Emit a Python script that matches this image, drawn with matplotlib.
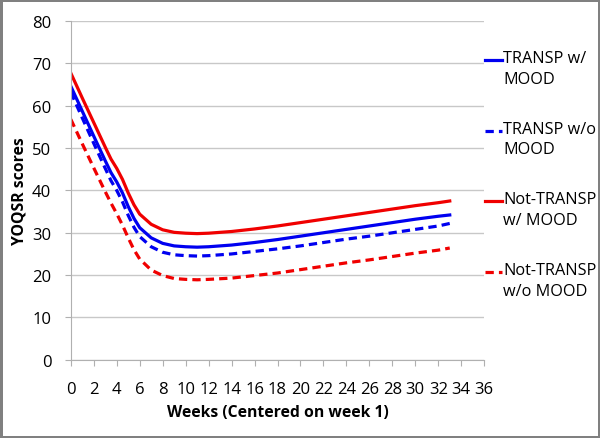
import matplotlib
matplotlib.use('Agg')
import matplotlib.pyplot as plt
from matplotlib.lines import Line2D

# semanas y puntuaciones
weeks = [0, 1, 2, 3, 3.5, 4, 4.5, 5, 5.5, 6, 7, 8, 9, 10, 11, 12,
         14, 16, 18, 20, 22, 24, 26, 28, 30, 32, 33]
transp_mood = [64.6, 58.7, 52.8, 47.0, 44.2, 42.0, 39.4, 36.2, 33.4, 31.2, 28.8, 27.5, 26.9, 26.7, 26.6, 26.7,
               27.1, 27.7, 28.4, 29.2, 30.0, 30.8, 31.6, 32.4, 33.2, 33.9, 34.2]
transp_nomood = [63.2, 57.1, 51.1, 45.2, 42.3, 40.0, 37.3, 34.1, 31.3, 29.1, 26.7, 25.4, 24.8, 24.6, 24.5, 24.6,
                 25.0, 25.6, 26.2, 26.9, 27.7, 28.5, 29.2, 30.0, 30.8, 31.6, 32.2]
nottransp_mood = [67.7, 61.8, 56.0, 50.2, 47.4, 45.2, 42.6, 39.4, 36.6, 34.4, 32.0, 30.7, 30.1, 29.9, 29.8, 29.9,
                  30.3, 30.9, 31.6, 32.4, 33.2, 34.0, 34.8, 35.6, 36.4, 37.1, 37.5]
nottransp_nomood = [56.8, 51.0, 45.3, 39.7, 37.0, 34.5, 31.8, 28.8, 26.0, 23.8, 21.2, 19.9, 19.2, 19.0, 18.9, 19.0,
                    19.3, 19.9, 20.5, 21.3, 22.1, 22.9, 23.6, 24.4, 25.2, 25.9, 26.4]
labels = ["TRANSP w/\nMOOD", "TRANSP w/o\nMOOD", "Not-TRANSP\nw/ MOOD", "Not-TRANSP\nw/o MOOD"]
xticks = list(range(0, 37, 2))
yticks = list(range(0, 81, 10))

plt.rcParams['font.family'] = ['Open Sans', 'DejaVu Sans']

fig = plt.figure(figsize=(6, 4.39), dpi=100)
fig.patch.set_edgecolor('#808080')
fig.patch.set_linewidth(2.5)
ax = fig.add_axes([0.118, 0.178, 0.689, 0.772])

blue, red = '#0000f0', '#f00000'
dash = (0, (2.6, 1.6))
series = [transp_mood, transp_nomood, nottransp_mood, nottransp_nomood]
colors = [blue, blue, red, red]
styles = ['-', dash, '-', dash]
for vals, c, st, lab in zip(series, colors, styles, labels):
    ax.plot(weeks, vals, color=c, lw=2.3, ls=st, label=lab)

ax.set_xlim(0, 36)
ax.set_ylim(0, 80)
ax.set_xticks(xticks)
ax.set_yticks(yticks)
ax.yaxis.grid(True, color='#c8c8c8', lw=1)
ax.set_axisbelow(True)
for s in ['top', 'right']:
    ax.spines[s].set_visible(False)
for s in ['left', 'bottom']:
    ax.spines[s].set_color('#b0b0b0')
ax.tick_params(axis='both', colors='#b0b0b0', labelcolor='black', labelsize=12, length=4)
ax.tick_params(axis='x', pad=11)
ax.tick_params(axis='y', pad=10)

ax.set_xlabel("Weeks (Centered on week 1)", fontsize=11.3, fontweight='bold', labelpad=5)
ax.set_ylabel("YOQSR scores", fontsize=11.3, fontweight='bold', labelpad=3)

# leyenda a mano: la linea va a la altura de la primera linea del texto
H = 439.0
for i, (c, st, lab) in enumerate(zip(colors, styles, labels)):
    yc = 1 - (61 + 70.7 * i) / H
    fig.add_artist(Line2D([485 / 600, 502 / 600], [yc, yc], transform=fig.transFigure,
                          color=c, lw=2.3, ls=st))
    fig.text(503 / 600, yc + 10 / H, lab, fontsize=11.7, va='top', ha='left', linespacing=1.4)

plt.savefig('out.png', dpi=100)
plt.close()
